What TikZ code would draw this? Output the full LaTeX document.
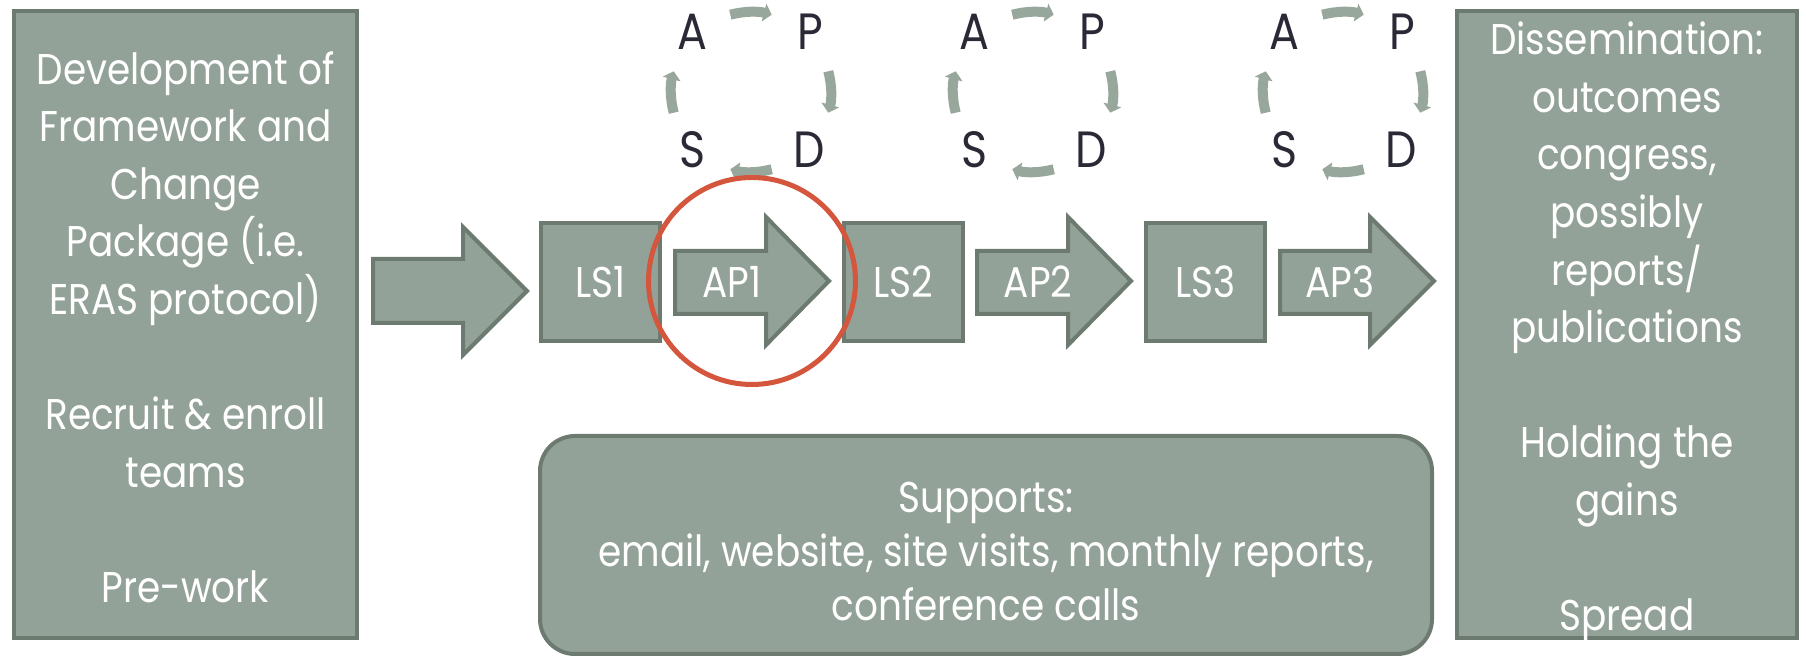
\documentclass[tikz,border=0pt]{standalone}
\usepackage{fontspec}
\setmainfont{Poppins}[FakeStretch=0.87]
\usetikzlibrary{arrows.meta}
\definecolor{boxfill}{HTML}{93A298}
\definecolor{boxline}{HTML}{6C7A70}
\definecolor{cyclegray}{HTML}{98A79C}
\definecolor{letterdark}{HTML}{2A2A36}
\definecolor{ringred}{HTML}{D4563C}
\tikzset{
  flowbox/.style={draw=boxline, fill=boxfill, line width=4pt},
  flowtext/.style={text=white, font=\fontsize{43}{57.6}\selectfont, align=center},
  lsbox/.style={flowbox, flowtext, minimum width=119, minimum height=118, inner sep=0pt},
  pdsa letter/.style={text=letterdark, font=\fontsize{51}{60}\selectfont, inner sep=0pt},
  cycle arrow/.style={draw=cyclegray, line width=10pt, -{Triangle[length=8pt,width=18pt]}},
}
\begin{document}
\begin{tikzpicture}[x=1pt,y=1pt]
    \useasboundingbox (0,0) rectangle (1806,658);

              % Preparation and outcome boxes
              \node[flowbox, minimum width=343, minimum height=627] (prep) at (185.5,333.5) {};
              \node[flowtext] (preptext) at (185.5,331)
                {Development of\\Framework and\\Change\\Package (i.e.\\ERAS protocol)\\[57.6pt]Recruit \& enroll\\teams\\[57.6pt]Pre-work};
              \node[flowbox, minimum width=340, minimum height=627] (dissem) at (1627,333.5) {};
              \node[flowtext] (dissemtext) at (1627,326)
                {Dissemination:\\outcomes\\congress,\\possibly\\reports/\\publications\\[57.6pt]Holding the\\gains\\[57.6pt]Spread};

              % Big entry arrow
              \draw[flowbox] (373,399) -- (463,399) -- (463,431) -- (527,367) -- (463,303) -- (463,335) -- (373,335) -- cycle;

              % Learning sessions
              \node[lsbox] (ls1) at (600.5,376) {LS1};
              \node[lsbox] (ls2) at (903.5,376) {LS2};
              \node[lsbox] (ls3) at (1205.5,376) {LS3};

              % Action periods
              \foreach \name/\xa/\xh/\xt/\lx/\lab in {ap1/675/766/829/732/AP1, ap2/977/1068/1131/1038/AP2, ap3/1280/1370/1434/1340/AP3} {
                \draw[flowbox] (\xa,407) -- (\xh,407) -- (\xh,441) -- (\xt,377) -- (\xh,313) -- (\xh,344) -- (\xa,344) -- cycle;
                \node[flowtext, inner sep=0pt] (\name) at (\lx,376) {\lab};
              }

              % Supports
              \node[flowbox, rounded corners=35pt, minimum width=892, minimum height=218] (supports) at (986,113) {};
              \node[flowtext, font=\fontsize{43}{54}\selectfont] (supportstext) at (986,106)
                {Supports:\\email, website, site visits, monthly reports,\\conference calls};

              % PDSA cycles
              \foreach \cx [count=\i] in {751,1033,1343} {
                \node[pdsa letter] (A\i) at (\cx-59,626) {A};
                \node[pdsa letter] (P\i) at (\cx+59,626) {P};
                \node[pdsa letter] (S\i) at (\cx-58,508) {S};
                \node[pdsa letter] (D\i) at (\cx+58,508) {D};
                \foreach \k in {0,1,2,3}
                  \draw[cycle arrow] ({\cx+80*cos(105-90*\k)},{566+80*sin(105-90*\k)})
                    arc[start angle=105-90*\k, end angle=75-90*\k, radius=80];
              }

              % Highlight ring
              \node[circle, draw=ringred, line width=5pt, minimum size=207, inner sep=0pt] (focus) at (752,377) {};
\end{tikzpicture}
\end{document}
